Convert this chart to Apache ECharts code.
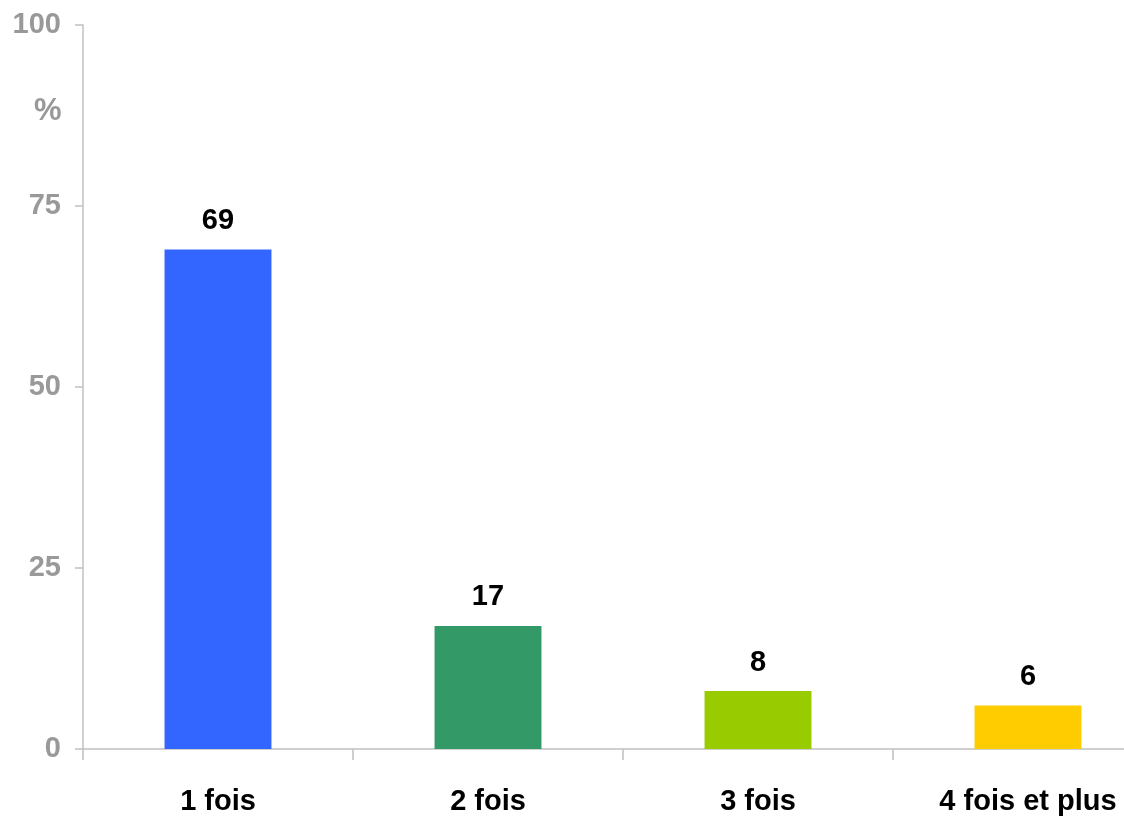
<!DOCTYPE html>
<html>
<head>
<meta charset="utf-8">
<style>
html,body{margin:0;padding:0;background:#fff;overflow:hidden;}
#chart{width:1163px;height:817px;}
</style>
<script src="https://cdn.jsdelivr.net/npm/echarts@6/dist/echarts.min.js"></script>
</head>
<body>
<div id="chart"></div>
<script>
var categories = ['1 fois', '2 fois', '3 fois', '4 fois et plus'];
var values = [69, 17, 8, 6];
var barColors = ['#3366ff', '#339966', '#99cc00', '#ffcc00'];
var yTicks = [0, 25, 50, 75, 100];
var unitLabel = '%';

var FONT = "'Liberation Sans', Arial, sans-serif";
var chart = echarts.init(document.getElementById('chart'));
chart.setOption({
  animation: false,
  backgroundColor: '#ffffff',
  grid: { left: 83, right: 0, top: 25, bottom: 68, containLabel: false },
  graphic: [{
    type: 'text', left: 34, top: 96,
    style: { text: unitLabel, fill: '#999999', font: "bold 31px " + FONT }
  }],
  xAxis: {
    type: 'category',
    data: categories,
    axisLine: { lineStyle: { color: '#c0c0c0', width: 1.5 } },
    axisTick: { show: true, length: 11, lineStyle: { color: '#c0c0c0', width: 1.5 } },
    axisLabel: { color: '#000000', fontWeight: 'bold', fontSize: 29, fontFamily: FONT, margin: 38 }
  },
  yAxis: {
    type: 'value',
    min: 0, max: 100, interval: 25,
    splitLine: { show: false },
    axisLine: { show: true, lineStyle: { color: '#c0c0c0', width: 1.5 } },
    axisTick: { show: true, length: 8, lineStyle: { color: '#c0c0c0', width: 1.5 } },
    axisLabel: {
      color: '#999999', fontWeight: 'bold', fontSize: 29, fontFamily: FONT, margin: 22,
      formatter: function (v) { return yTicks.indexOf(v) >= 0 ? String(v) : ''; }
    }
  },
  series: [{
    type: 'bar',
    barWidth: '39.6%',
    data: values.map(function (v, i) { return { value: v, itemStyle: { color: barColors[i] } }; }),
    label: {
      show: true, position: 'top', distance: 14,
      color: '#000000', fontWeight: 'bold', fontSize: 29, fontFamily: FONT
    }
  }]
});
</script>
</body>
</html>
